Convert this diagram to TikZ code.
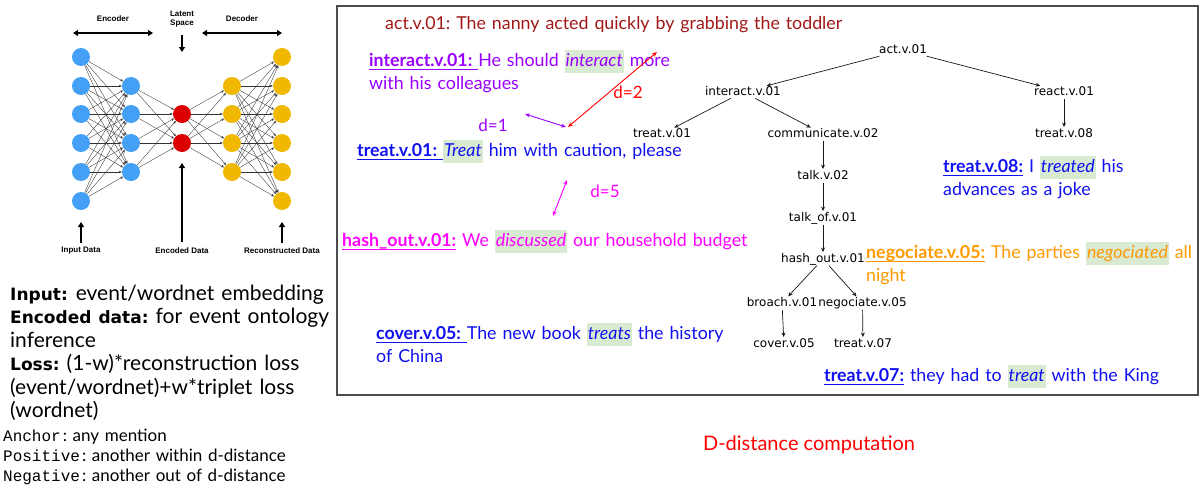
\documentclass[tikz,border=0pt]{standalone}
\usepackage{fontspec}
\setmainfont{Lato}
\newfontfamily\ltree{DejaVu Sans}
\newfontfamily\lcomic{DejaVu Sans}
\newfontfamily\lmono{Liberation Mono}
\newfontfamily\lae{Liberation Sans}
\usetikzlibrary{arrows.meta}
\definecolor{aeblue}{HTML}{44A0F5}
\definecolor{aered}{HTML}{DD0000}
\definecolor{aeyellow}{HTML}{F0B800}
\definecolor{cact}{HTML}{A01818}
\definecolor{cpurple}{HTML}{9900FF}
\definecolor{cblue}{HTML}{1010F0}
\definecolor{cmag}{HTML}{FF00FF}
\definecolor{corange}{HTML}{FF9900}
\definecolor{cred}{HTML}{FF0000}
\definecolor{hlgreen}{HTML}{D9EAD3}
\newcommand\hlw[1]{{\setlength{\fboxsep}{0pt}\colorbox{hlgreen}{\strut\kern1pt\itshape #1\kern1pt}}}
\newcommand\lbl[1]{\textbf{\setbox0\hbox{#1}\rlap{\vrule width\wd0 height -2pt depth 3.6pt}\box0}}
\tikzset{
  aenode/.style={circle, minimum size=18pt, inner sep=0pt},
  aeedge/.style={draw=black!80, line width=0.35pt, -{Stealth[length=3pt,width=2.4pt]}},
  bigarrow/.style={line width=1.6pt, -{Triangle[length=5pt,width=6pt]}},
  bigdarrow/.style={line width=1.6pt, {Triangle[length=5pt,width=6pt]}-{Triangle[length=5pt,width=6pt]}},
  aelabel/.style={font=\lae\bfseries\fontsize{8}{9.5}\selectfont, align=center, inner sep=0pt},
  treenode/.style={font=\ltree\fontsize{12}{14}\selectfont, inner sep=0pt, text height=9pt, text depth=2.5pt},
  treeedge/.style={draw=black!90, line width=0.7pt, shorten <=1pt, shorten >=1pt, -{Stealth[length=4.5pt,width=4pt]}},
  sent/.style={anchor=base west, inner sep=0pt, align=left, text width=480pt, font=\fontsize{17.8}{23}\selectfont},
  dlabel/.style={font=\fontsize{17}{20}\selectfont, inner sep=0pt},
  darrow/.style={line width=0.9pt, {Stealth[length=5pt,width=4pt]}-{Stealth[length=5pt,width=4pt]}}
}
\newcommand\cbold[1]{{\lcomic\bfseries\fontsize{17}{23.4}\selectfont #1}}
\newcommand\cmono[1]{{\lmono\fontsize{16}{20}\selectfont #1}}
\begin{document}
\frenchspacing
\begin{tikzpicture}[x=1pt,y=-1pt]
\useasboundingbox (0,0) rectangle (1203,488);
% ---------- autoencoder ----------
\foreach \i/\y in {1/57,2/86,3/114,4/143,5/172,6/201} {
  \node[aenode, fill=aeblue] (i\i) at (81,\y) {};
  \node[aenode, fill=aeyellow] (o\i) at (282,\y) {};
}
\foreach \i/\y in {1/86,2/114,3/143,4/172} {
  \node[aenode, fill=aeblue] (a\i) at (131,\y) {};
  \node[aenode, fill=aeyellow] (b\i) at (232,\y) {};
}
\node[aenode, fill=aered] (z1) at (182,114) {};
\node[aenode, fill=aered] (z2) at (182,143) {};
\foreach \i in {1,...,6} \foreach \j in {1,...,4} \draw[aeedge] (i\i) -- (a\j);
\foreach \i in {1,...,4} \foreach \j in {1,2} \draw[aeedge] (a\i) -- (z\j);
\foreach \i in {1,2} \foreach \j in {1,...,4} \draw[aeedge] (z\i) -- (b\j);
\foreach \i in {1,...,4} \foreach \j in {1,...,6} \draw[aeedge] (b\i) -- (o\j);
\node[aelabel] (lenc) at (113,19) {Encoder};
\node[aelabel] (llat) at (182,19) {Latent\\Space};
\node[aelabel] (ldec) at (242,19) {Decoder};
\node[aelabel] (lin) at (81,251) {Input Data};
\node[aelabel] (lencd) at (182,251) {Encoded Data};
\node[aelabel] (lrec) at (282,251) {Reconstructed Data};
\coordinate (ea1) at (73,33); \coordinate (ea2) at (153,33);
\coordinate (da1) at (202,33); \coordinate (da2) at (282,33);
\draw[bigdarrow] (ea1) -- (ea2);
\draw[bigdarrow] (da1) -- (da2);
\coordinate (lt1) at (182,35); \coordinate (lt2) at (182,52);
\draw[bigarrow] (lt1) -- (lt2);
\coordinate (ed1) at (182,242); \coordinate (ed2) at (182,163);
\draw[bigarrow] (ed1) -- (ed2);
\coordinate (in1) at (81,243); \coordinate (in2) at (81,222);
\draw[bigarrow] (in1) -- (in2);
\coordinate (rc1) at (282,243); \coordinate (rc2) at (282,222);
\draw[bigarrow] (rc1) -- (rc2);
% ---------- left text ----------
\node[anchor=base west, inner sep=0pt, text width=340pt, align=left, font=\fontsize{21}{23.4}\selectfont] (ltext) at (10,300.5)
 {\cbold{Input:}\hspace{8pt}event/wordnet embedding\\
  \cbold{Encoded data:} for event ontology\\
  inference\\
  \cbold{Loss:} (1-w)*reconstruction loss\\
  (event/wordnet)+w*triplet loss\\
  (wordnet)};
\node[anchor=base west, inner sep=0pt, text width=330pt, align=left, font=\fontsize{17}{20}\selectfont] (ltext2) at (3,441)
 {\cmono{Anchor}\kern2pt: any mention\\
  \cmono{Positive}\kern2pt: another within d-distance\\
  \cmono{Negative}\kern2pt: another out of d-distance};
% ---------- right panel ----------
\draw[line width=1.3pt, black!70] (337,6) rectangle (1198,395);
\node[sent, text=cact] (sact) at (385,29.5) {act.v.01: The nanny acted quickly by grabbing the toddler};
\node[sent, text=cpurple] (sinter) at (369,66.5) {\lbl{interact.v.01: }He should \hlw{interact} more\\with his colleagues};
\node[sent, text=cblue] (st01) at (357,156.5) {\lbl{treat.v.01: }\hlw{Treat} him with caution, please};
\node[sent, text=cmag] (shash) at (342,246.5) {\lbl{hash\_out.v.01:}\ We \hlw{discussed} our household budget};
\node[sent, text=cblue] (scover) at (376,339.5) {\lbl{cover.v.05: }The new book \hlw{treats} the history\\of China};
\node[sent, text=cblue] (st08) at (943,172.5) {\lbl{treat.v.08:}\ I \hlw{treated} his\\advances as a joke};
\node[sent, text=corange] (snego) at (866,258.5) {\lbl{negociate.v.05:}\ The parties \hlw{negociated} all\\night};
\node[sent, text=cblue] (st07) at (824,381.5) {\lbl{treat.v.07:}\ they had to \hlw{treat} with the King};
\node[font=\fontsize{20}{22}\selectfont, text=cred, inner sep=0pt] (dcomp) at (809,445) {D-distance computation};
% d-distance arrows
\node[dlabel, text=cred] (d2) at (628,92) {d=2};
\node[dlabel, text=cpurple] (d1) at (493,125) {d=1};
\node[dlabel, text=cmag] (d5) at (605,191) {d=5};
\coordinate (r1) at (568,127); \coordinate (r2) at (657,52);
\coordinate (p1) at (525,114); \coordinate (p2) at (566,127);
\coordinate (m1) at (567,180); \coordinate (m2) at (553,216);
\draw[darrow, cred] (r1) -- (r2);
\draw[darrow, cpurple] (p1) -- (p2);
\draw[darrow, cmag] (m1) -- (m2);
% tree
\node[treenode] (act) at (903,50) {act.v.01};
\node[treenode] (inter) at (743,92) {interact.v.01};
\node[treenode] (react) at (1064,92) {react.v.01};
\node[treenode] (t01) at (662,134) {treat.v.01};
\node[treenode] (comm) at (823,134) {communicate.v.02};
\node[treenode] (t08) at (1064,134) {treat.v.08};
\node[treenode] (talk) at (823,176) {talk.v.02};
\node[treenode] (talkof) at (823,218) {talk\_of.v.01};
\node[treenode] (hash) at (823,259) {hash\_out.v.01};
\node[treenode] (broach) at (782,303) {broach.v.01};
\node[treenode] (nego) at (862.5,303) {negociate.v.05};
\node[treenode] (cover) at (784,344) {cover.v.05};
\node[treenode] (t07) at (863,344) {treat.v.07};
\draw[treeedge] (act) -- (inter);
\draw[treeedge] (act) -- (react);
\draw[treeedge] (inter) -- (t01);
\draw[treeedge] (inter) -- (comm);
\draw[treeedge] (react) -- (t08);
\draw[treeedge] (comm) -- (talk);
\draw[treeedge] (talk) -- (talkof);
\draw[treeedge] (talkof) -- (hash);
\draw[treeedge] (hash) -- (broach);
\draw[treeedge] (hash) -- (nego);
\draw[treeedge] (broach) -- (cover);
\draw[treeedge] (nego) -- (t07);
\end{tikzpicture}
\end{document}
